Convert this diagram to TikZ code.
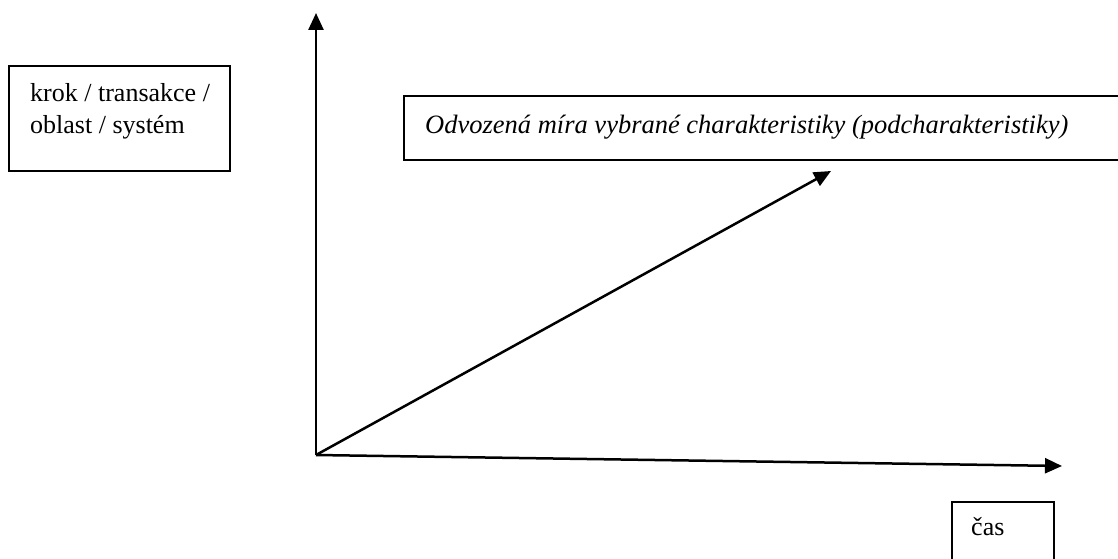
\documentclass[tikz,border=0pt]{standalone}
\usepackage{fontspec}
\setmainfont{Liberation Serif}
\usetikzlibrary{arrows.meta}
\tikzset{
  axis/.style={line width=2.5pt, -{Triangle[length=17pt,width=15pt]}},
  box/.style={draw, line width=2pt, inner sep=0pt},
  lbl/.style={anchor=base west, inner sep=0pt, font=\fontsize{26}{32}\selectfont},
}
\begin{document}
\begin{tikzpicture}[x=1pt,y=-1pt]
\useasboundingbox (0,0) rectangle (1118,559);
\clip (0,0) rectangle (1118,559);
% boxes
\node[box, anchor=north west, minimum width=221pt, minimum height=105pt] (kbox) at (8,65) {};
\node[lbl, align=left] (ktext) at (30,133) {krok / transakce /\\oblast / systém};
\node[box, anchor=north west, minimum width=730pt, minimum height=64pt] (obox) at (403,95) {};
\node[lbl, font=\fontsize{26.5}{32}\selectfont\itshape] (otext) at (425,133) {Odvozená míra vybrané charakteristiky (podcharakteristiky)};
\node[box, anchor=north west, minimum width=102pt, minimum height=70pt] (cbox) at (951,501) {};
\node[lbl] (ctext) at (971,535) {čas};
% axes
\coordinate (O) at (316,455);
\coordinate (Y) at (316,13);
\coordinate (X) at (1062,466);
\coordinate (D) at (831,171);
\draw[axis] (O) -- (Y);
\draw[axis] (O) -- (X);
\draw[axis] (O) -- (D);
\end{tikzpicture}
\end{document}
